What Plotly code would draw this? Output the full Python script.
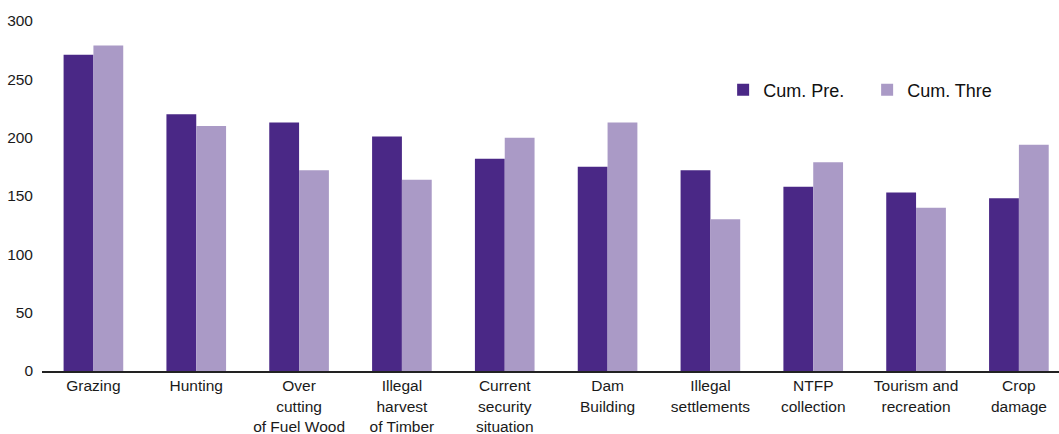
import plotly.graph_objects as go

categories = [
    "Grazing", "Hunting", "Over<br>cutting<br>of Fuel Wood", "Illegal<br>harvest<br>of Timber",
    "Current<br>security<br>situation", "Dam<br>Building", "Illegal<br>settlements",
    "NTFP<br>collection", "Tourism and<br>recreation", "Crop<br>damage",
]
cum_pre = [271, 220, 213, 201, 182, 175, 172, 158, 153, 148]
cum_thre = [279, 210, 172, 164, 200, 213, 130, 179, 140, 194]
y_ticks = [0, 50, 100, 150, 200, 250, 300]

FONT = "Liberation Sans, Arial, Helvetica, sans-serif"
x_idx = list(range(len(categories)))

fig = go.Figure()
fig.add_trace(go.Bar(x=x_idx, y=cum_pre, name="Cum. Pre.", marker_color="#4a2886",
                     marker_line_width=0))
fig.add_trace(go.Bar(x=x_idx, y=cum_thre, name="Cum. Thre", marker_color="#aa9ac6",
                     marker_line_width=0))

plot_l, plot_t, plot_b = 41.6, 21, 63
plot_w = 1059 - plot_l
plot_h = 434 - plot_t - plot_b

fig.update_layout(
    width=1059, height=434,
    margin=dict(l=plot_l, r=0, t=plot_t, b=plot_b),
    paper_bgcolor="white", plot_bgcolor="white",
    barmode="group", bargap=0.42, bargroupgap=0,
    font=dict(family=FONT, size=15.5, color="#1a1a1a"),
    showlegend=True,
    legend=dict(
        orientation="h",
        x=(723 - plot_l) / plot_w, y=(434 - plot_b - 90) / plot_h,
        xanchor="left", yanchor="middle",
        entrywidth=99, entrywidthmode="pixels",
        font=dict(family=FONT, size=18, color="#111"),
        bgcolor="rgba(0,0,0,0)",
    ),
)

fig.update_xaxes(
    tickmode="array", tickvals=x_idx, ticktext=categories,
    range=[-0.5, 9.39], showgrid=False, zeroline=False,
    showline=True, linecolor="#222", linewidth=1.5,
    ticks="", automargin=False,
    tickfont=dict(size=15.5, color="#1a1a1a"),
)
fig.update_yaxes(
    range=[0, 300], tickmode="array", tickvals=y_ticks,
    showgrid=False, zeroline=False, showline=False, ticks="",
    ticklabelstandoff=8, automargin=False,
    tickfont=dict(size=15.5, color="#1a1a1a"),
)

fig.write_html("out.html")
